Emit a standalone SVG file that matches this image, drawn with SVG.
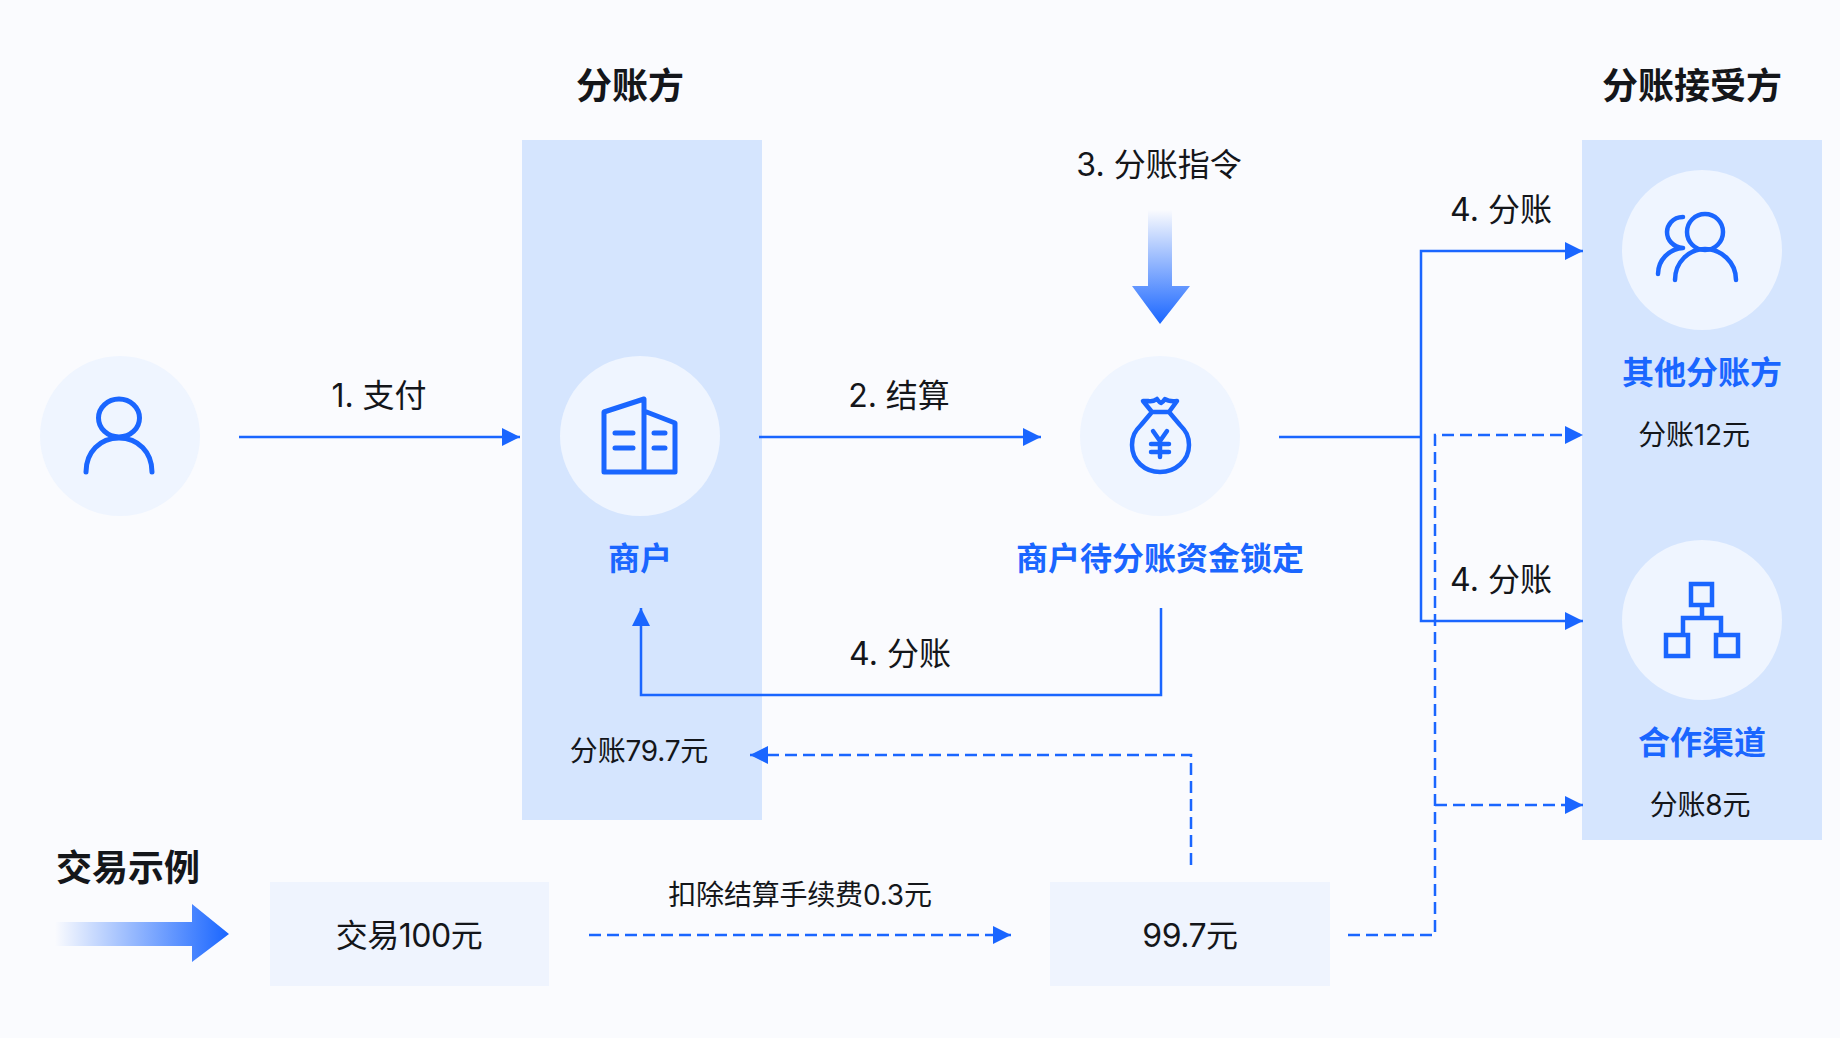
<svg xmlns="http://www.w3.org/2000/svg" width="1840" height="1038" viewBox="0 0 1840 1038">
<style>
text{font-family:"Inter","Noto Sans CJK SC",sans-serif;fill:#14161a;text-anchor:middle}
.h{font-size:36px;font-weight:700}
.l{font-size:32px}
.s{font-size:28px;letter-spacing:-.2px}
.g{letter-spacing:-.5px}
.n{font-size:32px;font-weight:600;fill:#1a66ff}
.p{fill:#d5e5fe}
.c{fill:#eff5ff}
.b{fill:#eff4fe}
.i{fill:none;stroke:#1a66ff;stroke-width:5;stroke-linecap:round;stroke-linejoin:round}
.t{stroke-width:4.500}
.q{stroke-linecap:butt;stroke-linejoin:miter}
.k{fill:none;stroke:#1a66ff;stroke-width:2.500}
.d{stroke-dasharray:12 6}
</style>
<defs>
<marker id="a" markerUnits="userSpaceOnUse" markerWidth="18" markerHeight="18" refX="18" refY="9" orient="auto"><path d="M0 0L18 9L0 18Z" fill="#1a66ff"/></marker>
<linearGradient id="gh" gradientUnits="userSpaceOnUse" x1="55" y1="0" x2="229" y2="0"><stop offset="0" stop-color="#1a66ff" stop-opacity="0"/><stop offset="1" stop-color="#1a66ff"/></linearGradient>
<linearGradient id="gv" gradientUnits="userSpaceOnUse" x1="0" y1="210" x2="0" y2="324"><stop offset="0" stop-color="#1a66ff" stop-opacity="0"/><stop offset="1" stop-color="#1a66ff"/></linearGradient>
</defs>
<rect width="1840" height="1038" fill="#fafbfe"/>
<g id="panel-left"><rect class="p" x="522" y="140" width="240" height="680"/><text class="h" x="630" y="99">分账方</text></g>
<g id="panel-right"><rect class="p" x="1582" y="140" width="240" height="700"/><text class="h" x="1692" y="99">分账接受方</text></g>
<g id="payer"><circle class="c" cx="120" cy="436" r="80"/>
<ellipse class="i" cx="119" cy="418" rx="20.500" ry="19"/><path class="i" d="M86 472C86 452 100 438 119 438S152 452 152 472"/></g>
<g id="merchant"><circle class="c" cx="640" cy="436" r="80"/>
<path class="i" d="M604 472V412L644 399V472ZM644 411L675 423V472H644"/>
<path class="i" d="M615 433H633M615 448H633M654 433H665M654 448H665"/>
<text class="n" x="640" y="570">商户</text><text class="s" x="639" y="761">分账79.7元</text></g>
<g id="locked"><circle class="c" cx="1160" cy="436" r="80"/>
<path class="i t" d="M1143 401H1148Q1153 402 1157 399Q1160 403 1161 403Q1163 402 1165 399Q1169 402 1177 401L1169 412H1152ZM1152 412L1141 425C1135 431 1132 436 1132 445C1132 461 1145 472 1160 472S1189 461 1189 445C1189 436 1186 431 1180 425L1169 412"/>
<path class="i t" d="M1153 431L1160 441L1167 431M1151 444H1169M1151 452H1169M1160 441V457"/>
<text class="n" x="1160" y="570">商户待分账资金锁定</text></g>
<g id="other"><circle class="c" cx="1702" cy="250" r="80"/>
<circle class="i t" cx="1705" cy="232" r="18"/><path class="i t" d="M1675 280C1675 262 1689 249 1705 249S1736 262 1736 280"/>
<path class="i t" d="M1683 217C1672 217 1667 226 1667 232C1667 240 1673 247 1683 248C1669 249 1658 260 1658 274"/>
<text class="n" x="1702" y="384">其他分账方</text><text class="s" x="1694" y="445">分账12元</text></g>
<g id="channel"><circle class="c" cx="1702" cy="620" r="80"/>
<rect class="i t q" x="1691" y="584" width="21" height="21"/><rect class="i t q" x="1666" y="635" width="22" height="21"/><rect class="i t q" x="1716" y="635" width="22" height="21"/><path class="i t q" d="M1702 605V618M1683 635V618H1721V635"/>
<text class="n" x="1702" y="754">合作渠道</text><text class="s" x="1700" y="815">分账8元</text></g>
<g id="example"><text class="h" x="128" y="881">交易示例</text><path fill="url(#gh)" d="M55 922H192V904L229 934L192 962V946H55Z"/></g>
<g id="tx"><rect class="b" x="270" y="882" width="279" height="104"/><text class="l g" x="409" y="947">交易100元</text></g>
<g id="net"><rect class="b" x="1050" y="882" width="280" height="104"/><text class="l g" x="1190" y="947">99.7元</text></g>
<g id="instruction"><text class="l" x="1159" y="176">3. 分账指令</text><path fill="url(#gv)" d="M1148 210H1172V286H1190L1160 324L1132 286H1148Z"/></g>
<g id="connectors">
<path class="k" marker-end="url(#a)" d="M239 437H520"/>
<path class="k" marker-end="url(#a)" d="M759 437H1041"/>
<path class="k" d="M1279 437H1421"/>
<path class="k" marker-end="url(#a)" d="M1421 437V251H1583"/>
<path class="k" marker-end="url(#a)" d="M1421 437V621H1583"/>
<path class="k" marker-end="url(#a)" d="M1161 608V695H641V608"/>
<path class="k d" marker-end="url(#a)" d="M589 935H1011"/>
<path class="k d" marker-end="url(#a)" d="M1348 935H1435V435H1583"/>
<path class="k d" marker-end="url(#a)" d="M1435 805H1583"/>
<path class="k d" marker-end="url(#a)" d="M1191 865V755H750"/>
</g>
<g id="labels">
<text class="l" x="379" y="407">1. 支付</text>
<text class="l" x="899" y="407">2. 结算</text>
<text class="l" x="1501" y="221">4. 分账</text>
<text class="l" x="1501" y="591">4. 分账</text>
<text class="l" x="900" y="665">4. 分账</text>
<text class="s" x="800" y="905">扣除结算手续费0.3元</text>
</g>
</svg>
